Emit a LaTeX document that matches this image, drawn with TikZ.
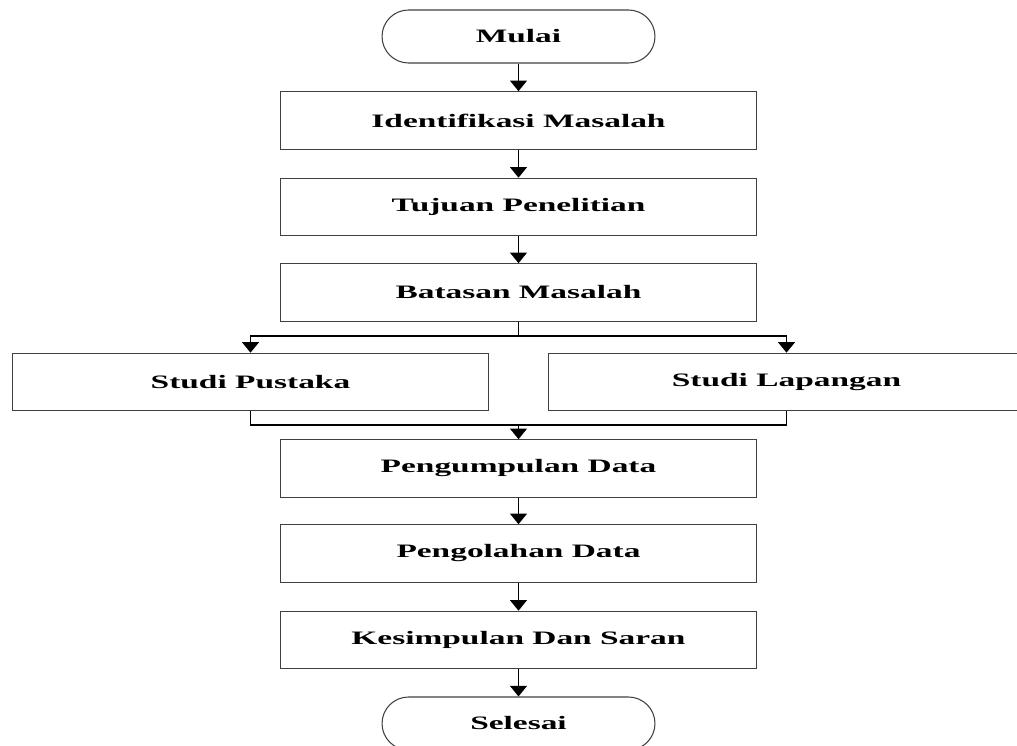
\documentclass[tikz,border=0pt]{standalone}
\usepackage{fontspec}
\setmainfont{Liberation Serif}[FakeStretch=1.76]
\usetikzlibrary{arrows.meta}

\begin{document}
\begin{tikzpicture}[x=0.02cm, y=-0.02cm,
    every node/.style={draw=black!75, line width=0.6pt, minimum width=9.54cm,
      minimum height=1.15cm, font=\fontsize{10.8}{12}\selectfont\bfseries},
    terminal/.style={rounded corners=0.53cm, minimum width=5.46cm, minimum height=1.06cm},
    arr/.style={draw=black, line width=0.9pt, -{Triangle[width=9.5pt,length=6pt]}},
    ln/.style={draw=black, line width=0.9pt}]
    \useasboundingbox (0,0) rectangle (1017,746);

    \node[terminal] (mulai) at (518.5,36.5) {Mulai};
    \node (ident) at (518.5,120.5) {Identifikasi Masalah};
    \node (tujuan) at (518.5,207) {Tujuan Penelitian};
    \node (batas) at (518.5,292.5) {Batasan Masalah};
    \node (pustaka) at (250.5,382) {Studi Pustaka};
    \node (lapangan) at (786.5,382) {Studi Lapangan};
    \node (kumpul) at (518.5,468.5) {Pengumpulan Data};
    \node (olah) at (518.5,553.5) {Pengolahan Data};
    \node (simpul) at (518.5,640) {Kesimpulan Dan Saran};
    \node[terminal] (selesai) at (518.5,723.5) {Selesai};

    \coordinate (split) at (518.5,336);
    \coordinate (join) at (518.5,425);

    \draw[arr] (mulai) -- (ident);
    \draw[arr] (ident) -- (tujuan);
    \draw[arr] (tujuan) -- (batas);
    \draw[ln] (batas) -- (split);
    \draw[arr] (split) -| (pustaka);
    \draw[arr] (split) -| (lapangan);
    \draw[ln] (pustaka) |- (join);
    \draw[ln] (lapangan) |- (join);
    \draw[arr] (join) -- (kumpul);
    \draw[arr] (kumpul) -- (olah);
    \draw[arr] (olah) -- (simpul);
    \draw[arr] (simpul) -- (selesai);
\end{tikzpicture}
\end{document}
